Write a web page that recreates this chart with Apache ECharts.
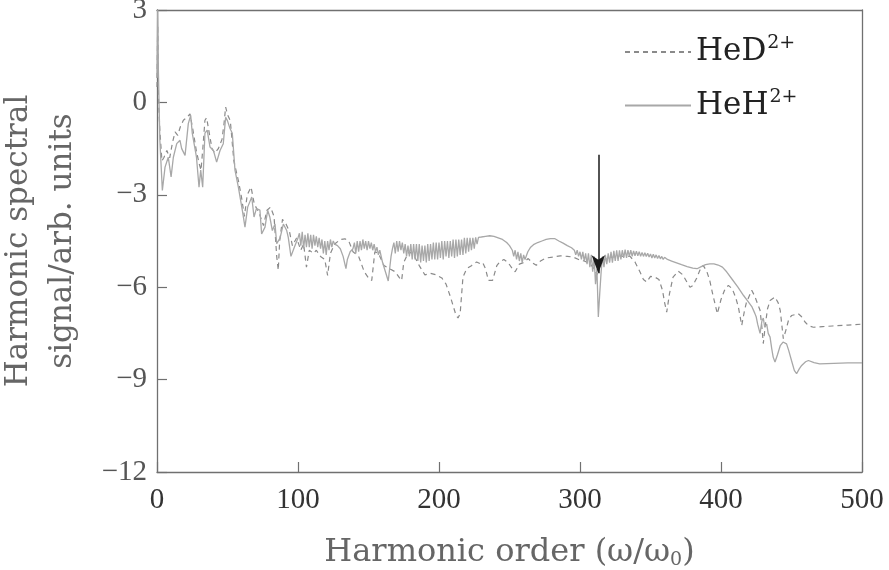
<!DOCTYPE html>
<html>
<head>
<meta charset="utf-8">
<script src="https://cdn.jsdelivr.net/npm/echarts@6/dist/echarts.min.js"></script>
<style>
  html, body { margin: 0; padding: 0; background: #fff; }
  #chart { width: 889px; height: 570px; }
</style>
</head>
<body>
<div id="chart"></div>
<script>
// values: [harmonic order, log signal]
let x_ticks = [0, 100, 200, 300, 400, 500];
let y_ticks = [-12, -9, -6, -3, 0, 3];
let series_names = ['HeD', 'HeH'];

let hed_data = [
    [0, 0.5], [0.5, 2.5], [1, 0.2], [2, -0.9], [3.5, -1.9], [5, -1.78], [7, -1.56], [9, -1.8],
    [11, -1.3], [12.8, -0.96], [14.7, -1.07], [16.5, -0.8], [18.7, -0.58], [21, -0.5], [23.4, -0.37],
    [25.5, -0.9], [28, -1.6], [30, -2.0], [31.2, -2.2], [32.5, -1.5], [34, -0.58], [35.2, -0.5],
    [36.5, -0.85], [39, -1.5], [41, -1.65], [43.5, -1.5], [46.1, -1.2], [47.5, -0.7], [48.7, -0.15],
    [50, -0.4], [52, -0.6], [54.5, -1.9], [58, -2.6], [60, -3.1], [62, -3.7], [64, -3.0], [66.7, -2.75],
    [69, -3.3], [72.5, -3.6], [75.5, -4.0], [78, -3.5], [80.5, -3.4], [83, -3.7], [84.9, -5.0],
    [86, -5.45], [87, -4.5], [89, -3.8], [91.5, -3.95], [94, -4.2], [96, -4.65], [99, -4.4],
    [102, -4.8], [104, -4.6], [106, -5.35], [108, -4.8], [111, -4.9], [113, -4.8], [116, -5.0],
    [119, -5.1], [121, -5.62], [123, -4.9], [126, -4.6], [130, -4.45], [133.3, -4.43], [136, -4.5],
    [139, -4.85], [143, -5.0], [147, -5.5], [150, -5.7], [152.3, -5.78], [154.5, -4.85], [157, -4.9],
    [161, -5.3], [165, -5.4], [169, -5.5], [172, -5.7], [173.5, -5.78], [175, -5.2], [177, -5.0],
    [179, -4.85], [182, -4.95], [186, -5.3], [190, -5.6], [194, -5.55], [198, -5.6], [202, -5.7],
    [205, -5.9], [208, -6.3], [210, -6.6], [212, -6.9], [213.5, -7.0], [215, -6.86], [217, -5.67],
    [219.6, -5.4], [223, -5.3], [226.7, -5.18], [229, -5.23], [231, -5.2], [233, -5.4], [235, -5.78],
    [238, -5.78], [241, -5.3], [243, -5.18], [246, -5.1], [249, -5.2], [252, -5.4], [254, -5.5],
    [257, -5.25], [260, -5.2], [263.3, -5.07], [266, -5.2], [269, -5.29], [272, -5.15], [276, -5.05],
    [281, -5.02], [286, -4.98], [291, -5.0], [295, -5.02], [299, -5.1], [303, -5.15], [307, -5.23],
    [310, -5.4], [312, -5.6], [314, -5.29], [317, -5.1], [320, -5.05], [323.6, -5.02], [327, -4.98],
    [331, -5.0], [335.5, -5.0], [339, -5.18], [342.5, -5.5], [345, -5.75], [347.3, -5.83], [350, -5.65],
    [353, -5.67], [356, -5.75], [358.5, -6.1], [360, -6.5], [361.5, -6.81], [363.5, -6.2], [366, -5.67],
    [369.7, -5.48], [373, -5.6], [376, -5.85], [378, -6.0], [380, -5.95], [382.8, -5.7], [385, -5.45],
    [387.4, -5.29], [390, -5.5], [392, -5.78], [394, -6.2], [395.7, -6.53], [397.4, -6.86], [400, -6.4],
    [402.5, -6.1], [405.2, -5.94], [408, -6.05], [410.5, -6.35], [412.3, -6.64], [414.7, -7.24],
    [416.5, -6.8], [418, -6.5], [421.8, -6.1], [424, -6.3], [427.7, -6.75], [429, -7.3], [430, -7.83],
    [431.5, -7.2], [433, -6.7], [434.8, -6.43], [438.3, -6.32], [440.5, -6.5], [442, -6.75],
    [444.2, -7.67], [446, -7.4], [448, -7.05], [450, -6.92], [454.8, -6.86], [457, -6.95],
    [459.6, -7.13], [462, -7.25], [465.5, -7.3], [472, -7.28], [479, -7.26], [490, -7.23], [500, -7.2]
];

let heh_data = [
    [0, 0.8], [0.5, 3.0], [1, 1.0], [2, -1.2], [3.8, -2.86], [5.7, -2.1], [8, -1.78], [10, -2.42],
    [11.6, -1.78], [14, -1.34], [16.3, -1.23], [17.5, -1.5], [19.9, -1.72], [22.2, -0.69], [23.9, -0.42],
    [25, -1.0], [28, -1.78], [29.8, -2.75], [31, -2.2], [32.4, -2.75], [34, -1.0], [35.6, -0.9],
    [37.6, -1.45], [40, -1.56], [42.3, -1.94], [44.7, -1.56], [47, -1.34], [48.7, -0.48], [50, -0.6],
    [51.8, -0.85], [53.4, -1.0], [55.3, -2.2], [57.7, -2.75], [60.5, -3.5], [62.4, -4.05], [64.3, -3.4],
    [67.2, -3.07], [68.8, -3.72], [70.5, -3.45], [73, -3.5], [74.2, -4.27], [76.6, -4.05], [78.5, -3.5],
    [80, -3.72], [81.8, -4.16], [83.7, -3.95], [84.9, -4.59], [87.3, -4.4], [89.6, -3.95], [92, -4.16],
    [93.1, -4.38], [95, -5.0], [97.4, -4.7], [100, -4.4], [101, -4.25], [102, -4.65], [103, -4.2],
    [104, -4.75], [105, -4.3], [106, -4.7], [107, -4.25], [108, -4.7], [109, -4.3], [110, -4.75],
    [111, -4.3], [112, -4.65], [113, -4.35], [114, -4.7], [115, -4.4], [116, -4.75], [117, -4.45],
    [118, -4.9], [119, -4.5], [120, -4.95], [121, -4.5], [122, -4.8], [123, -4.45], [124, -4.7],
    [125, -4.5], [126, -4.6], [127, -4.55], [128, -4.65], [129, -4.6], [130, -4.75], [132, -5.0],
    [134, -5.4], [135, -5.1], [137, -4.85], [139, -4.75], [140, -4.55], [141, -4.9], [142, -4.5],
    [143, -4.85], [144, -4.5], [145, -4.8], [146, -4.45], [147, -4.75], [148, -4.5], [149, -4.8],
    [150, -4.5], [151, -4.75], [152, -4.55], [153, -4.8], [154, -4.6], [155, -4.85], [156, -4.7],
    [157, -4.95], [158, -4.8], [160, -5.2], [162, -5.5], [164, -5.8], [165, -5.4], [166, -5.0],
    [167, -4.75], [168, -4.55], [169, -4.9], [170, -4.5], [171, -4.85], [172, -4.5], [173, -4.8],
    [174, -4.55], [175, -4.9], [176, -4.6], [177, -5.0], [178, -4.65], [179, -5.0], [180, -4.6],
    [181, -5.1], [182, -4.6], [183, -5.1], [184, -4.6], [185, -5.15], [186, -4.6], [187, -5.2],
    [188, -4.65], [189, -5.15], [190, -4.65], [191, -5.2], [192, -4.6], [193, -5.15], [194, -4.6],
    [195, -5.1], [196, -4.55], [197, -5.1], [198, -4.55], [199, -5.1], [200, -4.55], [201, -5.05],
    [202, -4.5], [203, -5.1], [204, -4.5], [205, -5.0], [206, -4.5], [207, -5.05], [208, -4.5],
    [209, -5.0], [210, -4.45], [211, -5.05], [212, -4.45], [213, -5.0], [214, -4.45], [215, -4.95],
    [216, -4.45], [217, -4.95], [218, -4.4], [219, -4.9], [220, -4.4], [221, -4.85], [222, -4.4],
    [223, -4.8], [224, -4.4], [225, -4.75], [226, -4.38], [227, -4.6], [228, -4.38], [230, -4.37],
    [233, -4.35], [236, -4.33], [239, -4.35], [242, -4.4], [245, -4.45], [248, -4.55], [250, -4.65],
    [252, -4.8], [253, -5.0], [254, -4.8], [255, -5.1], [256, -4.85], [257, -5.15], [258, -4.9],
    [259, -5.2], [260, -4.95], [261, -5.1], [263, -4.85], [265, -4.7], [267, -4.62], [270, -4.55],
    [273, -4.5], [276, -4.45], [279, -4.42], [282, -4.42], [285, -4.5], [288, -4.57], [291, -4.65],
    [294, -4.72], [296, -4.8], [297, -4.95], [298, -4.8], [299, -5.0], [300, -4.85], [301, -5.1],
    [302, -4.85], [303, -5.15], [304, -4.9], [305, -5.25], [306, -4.9], [307, -5.35], [308, -4.95],
    [309, -5.5], [310, -5.0], [311, -5.9], [312, -5.4], [313, -6.97], [314, -6.2], [315, -5.5],
    [316, -5.0], [317, -5.35], [318, -4.95], [319, -5.25], [320, -4.9], [321, -5.2], [322, -4.85],
    [323, -5.2], [324, -4.82], [325, -5.15], [326, -4.8], [327, -5.15], [328, -4.8], [329, -5.1],
    [330, -4.8], [331, -5.05], [332, -4.78], [333, -5.05], [334, -4.8], [335, -5.0], [336, -4.8],
    [337, -5.0], [338, -4.82], [339, -4.98], [340, -4.83], [341, -4.98], [342, -4.85], [343, -5.0],
    [344, -4.87], [345, -5.0], [346, -4.88], [347, -5.0], [348, -4.9], [349, -5.02], [350, -4.92],
    [351, -5.05], [352, -4.93], [353, -5.05], [354, -4.95], [355, -5.07], [356, -4.97], [357, -5.08],
    [358, -5.0], [359, -5.1], [360, -5.03], [362, -5.1], [365, -5.15], [368, -5.2], [372, -5.27],
    [376, -5.33], [380, -5.38], [383, -5.4], [386, -5.33], [389, -5.27], [392, -5.24], [395, -5.24],
    [398, -5.28], [401, -5.35], [404, -5.5], [408, -5.75], [412, -6.0], [416, -6.27], [419, -6.45],
    [422, -6.64], [424, -6.85], [425, -6.97], [426, -7.2], [427.7, -7.5], [429, -7.1], [430, -7.0],
    [431, -7.3], [432.4, -7.2], [433.5, -7.5], [434.8, -7.62], [436, -8.0], [437, -8.27], [438.3, -8.43],
    [440, -8.2], [442, -7.9], [444, -7.78], [446.5, -7.84], [448, -8.05], [450, -8.38], [452, -8.7],
    [453.6, -8.81], [455.5, -8.65], [457.2, -8.54], [460, -8.42], [462, -8.38], [466, -8.45],
    [470, -8.49], [480, -8.47], [490, -8.46], [500, -8.46]
];

// arrow marking the dip
let arrow_x = 313;
let arrow_from = -1.7;
let arrow_to = -5.55;

const FONT = '"Liberation Serif", "DejaVu Serif", serif';
const NAME_FONT = '"DejaVu Serif", "Liberation Serif", serif';

function fmt_minus(v) {
    return String(v).replace('-', '\u2212');
}

function gen_series(name, data, extra_params) {
    let rt_dict = {
        name: name,
        type: 'line',
        data: data,
        symbol: 'none',
        smooth: false,
        lineStyle: {width: 1.3}
    };
    for (let key in extra_params) rt_dict[key] = extra_params[key];
    return rt_dict;
}

let chart = echarts.init(document.getElementById('chart'), null, {renderer: 'canvas'});

let frame_line = {show: true, onZero: false, lineStyle: {color: '#707070', width: 1.3}};

let option = {
    animation: false,
    backgroundColor: '#fff',
    grid: {left: 157, right: 27, top: 10, bottom: 98, containLabel: false, outerBoundsMode: 'none'},
    legend: {
        orient: 'vertical',
        left: 619,
        top: 29,
        itemWidth: 66,
        itemHeight: 22,
        itemGap: 20,
        itemStyle: {opacity: 0},
        textStyle: {
            fontFamily: NAME_FONT,
            fontSize: 31,
            color: '#222',
            rich: {
                b: {fontFamily: NAME_FONT, fontSize: 31, color: '#222'},
                sup: {fontFamily: NAME_FONT, fontSize: 19, color: '#222', verticalAlign: 'bottom', padding: [0, 0, 17, 1]}
            }
        },
        formatter: function (name) {
            return '{b|' + name + '}{sup|2+}';
        },
        data: series_names
    },
    xAxis: [{
        type: 'value',
        min: x_ticks[0],
        max: x_ticks[x_ticks.length - 1],
        interval: 100,
        name: 'Harmonic order (ω/{sub|ω}{s|0})',
        nameLocation: 'middle',
        nameGap: 63,
        nameTextStyle: {
            fontFamily: NAME_FONT, fontSize: 32, color: '#666',
            rich: {
                sub: {fontFamily: NAME_FONT, fontSize: 32, color: '#666'},
                s: {fontFamily: NAME_FONT, fontSize: 19, color: '#666', verticalAlign: 'top', padding: [16, 0, 0, 0]}
            }
        },
        axisLine: frame_line,
        axisTick: {show: true, inside: true, length: 10, lineStyle: {color: '#707070', width: 1.2}},
        axisLabel: {fontFamily: FONT, fontSize: 29, color: '#333', margin: 14},
        splitLine: {show: false}
    }, {
        type: 'value',
        position: 'top',
        min: x_ticks[0],
        max: x_ticks[x_ticks.length - 1],
        axisLine: frame_line,
        axisTick: {show: false},
        axisLabel: {show: false},
        splitLine: {show: false}
    }],
    yAxis: [{
        type: 'value',
        min: y_ticks[0],
        max: y_ticks[y_ticks.length - 1],
        interval: 3,
        name: 'Harmonic spectral\nsignal/arb. units',
        nameLocation: 'middle',
        nameRotate: 90,
        nameGap: 72,
        nameTextStyle: {fontFamily: NAME_FONT, fontSize: 31, color: '#666', lineHeight: 44},
        axisLine: frame_line,
        axisTick: {show: true, inside: true, length: 10, lineStyle: {color: '#707070', width: 1.2}},
        axisLabel: {fontFamily: FONT, fontSize: 29, color: '#555', margin: 10, formatter: fmt_minus},
        splitLine: {show: false}
    }, {
        type: 'value',
        position: 'right',
        min: y_ticks[0],
        max: y_ticks[y_ticks.length - 1],
        axisLine: frame_line,
        axisTick: {show: false},
        axisLabel: {show: false},
        splitLine: {show: false}
    }],
    series: [
        gen_series(series_names[0], hed_data, {
            color: '#8a8a8a',
            lineStyle: {width: 1.2, type: [5, 4], color: '#8a8a8a'},
            z: 2
        }),
        gen_series(series_names[1], heh_data, {
            color: '#a8a8a8',
            lineStyle: {width: 1.3, color: '#a8a8a8'},
            z: 3,
            markLine: {
                silent: true,
                symbol: ['none', 'arrow'],
                symbolSize: [10, 18],
                label: {show: false},
                lineStyle: {color: '#1a1a1a', width: 1.5, type: 'solid'},
                data: [[{coord: [arrow_x, arrow_from]}, {coord: [arrow_x, arrow_to]}]]
            }
        })
    ]
};

chart.setOption(option);
</script>
</body>
</html>
